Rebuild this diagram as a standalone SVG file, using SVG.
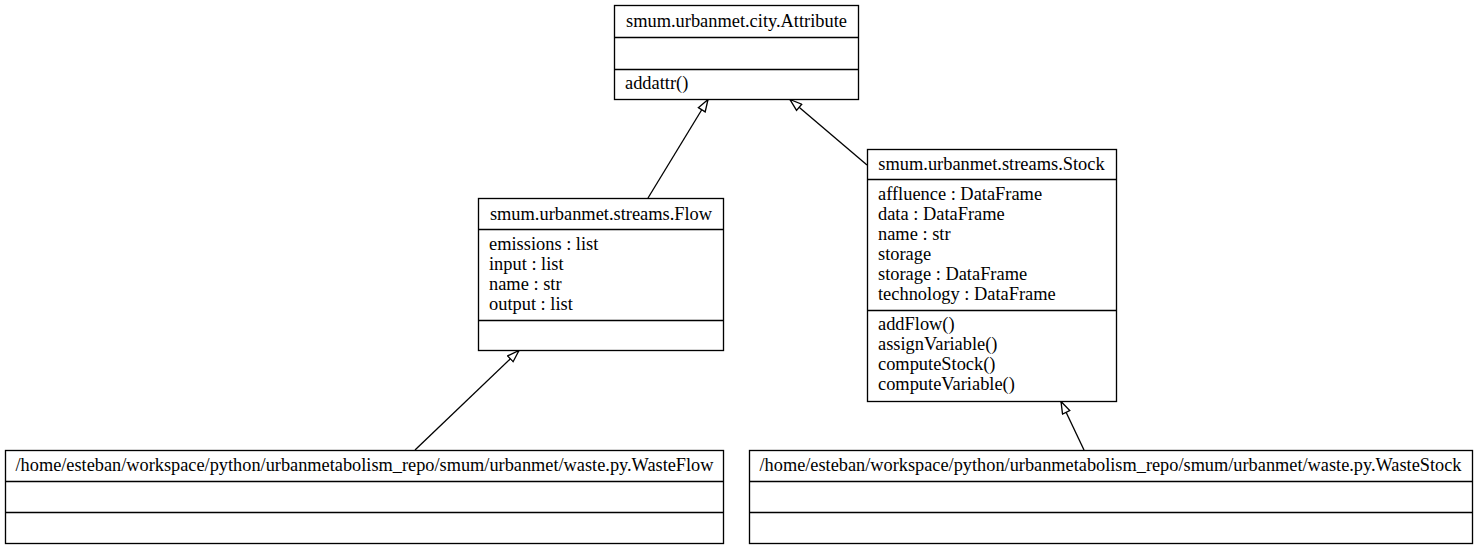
<svg xmlns="http://www.w3.org/2000/svg" width="1477" height="549" viewBox="0 0 1477 549">
<style>
  .box { fill: #ffffff; stroke: #000000; stroke-width: 1.33; }
  .sep { stroke: #000000; stroke-width: 1.33; }
  text { font-family: "Liberation Serif", "Times New Roman", serif; font-size: 18.4px; fill: #000000; }
  .title { text-anchor: middle; }
  .edge { stroke: #000000; stroke-width: 1.33; fill: none; marker-end: url(#inherit); }
</style>
<defs>
  <marker id="inherit" markerWidth="14" markerHeight="10" refX="13" refY="5" orient="auto" markerUnits="userSpaceOnUse" viewBox="0 0 14 10">
    <path d="M1,1 L13,5 L1,9 Z" fill="#ffffff" stroke="#000000" stroke-width="1.33"/>
  </marker>
</defs>
<rect width="1477" height="549" fill="#ffffff"/>

<g id="connectors">
  <line class="edge" x1="648" y1="198" x2="708" y2="99.5"/>
  <line class="edge" x1="867" y1="165" x2="790" y2="99.5"/>
  <line class="edge" x1="415" y1="450" x2="519" y2="350.5"/>
  <line class="edge" x1="1084" y1="450" x2="1061" y2="401.5"/>
</g>

<g id="node-attribute">
  <rect class="box" x="614.5" y="5.5" width="244" height="94"/>
  <line class="sep" x1="614.5" y1="37.5" x2="858.5" y2="37.5"/>
  <line class="sep" x1="614.5" y1="69.5" x2="858.5" y2="69.5"/>
  <text class="title" x="736.5" y="26.5">smum.urbanmet.city.Attribute</text>
  <text x="625" y="88.5">addattr()</text>
</g>

<g id="node-flow">
  <rect class="box" x="478.5" y="198.5" width="245" height="152"/>
  <line class="sep" x1="478.5" y1="229.5" x2="723.5" y2="229.5"/>
  <line class="sep" x1="478.5" y1="320.5" x2="723.5" y2="320.5"/>
  <text class="title" x="601" y="219.5">smum.urbanmet.streams.Flow</text>
  <text x="489" y="249.5">emissions : list</text>
  <text x="489" y="269.5">input : list</text>
  <text x="489" y="289.5">name : str</text>
  <text x="489" y="309.5">output : list</text>
</g>

<g id="node-stock">
  <rect class="box" x="867.5" y="149.5" width="249" height="252"/>
  <line class="sep" x1="867.5" y1="179.5" x2="1116.5" y2="179.5"/>
  <line class="sep" x1="867.5" y1="310.5" x2="1116.5" y2="310.5"/>
  <text class="title" x="991.5" y="169.5">smum.urbanmet.streams.Stock</text>
  <text x="878" y="199.5">affluence : DataFrame</text>
  <text x="878" y="219.5">data : DataFrame</text>
  <text x="878" y="239.5">name : str</text>
  <text x="878" y="259.5">storage</text>
  <text x="878" y="279.5">storage : DataFrame</text>
  <text x="878" y="299.5">technology : DataFrame</text>
  <text x="878" y="329.5">addFlow()</text>
  <text x="878" y="349.5">assignVariable()</text>
  <text x="878" y="369.5">computeStock()</text>
  <text x="878" y="389.5">computeVariable()</text>
</g>

<g id="node-wasteflow">
  <rect class="box" x="5.5" y="450.5" width="718" height="93"/>
  <line class="sep" x1="5.5" y1="481.5" x2="723.5" y2="481.5"/>
  <line class="sep" x1="5.5" y1="512.5" x2="723.5" y2="512.5"/>
  <text class="title" x="364.5" y="470.5" textLength="698" lengthAdjust="spacingAndGlyphs">/home/esteban/workspace/python/urbanmetabolism_repo/smum/urbanmet/waste.py.WasteFlow</text>
</g>

<g id="node-wastestock">
  <rect class="box" x="749.5" y="450.5" width="723" height="93"/>
  <line class="sep" x1="749.5" y1="481.5" x2="1472.5" y2="481.5"/>
  <line class="sep" x1="749.5" y1="512.5" x2="1472.5" y2="512.5"/>
  <text class="title" x="1110.5" y="470.5" textLength="702" lengthAdjust="spacingAndGlyphs">/home/esteban/workspace/python/urbanmetabolism_repo/smum/urbanmet/waste.py.WasteStock</text>
</g>
</svg>
